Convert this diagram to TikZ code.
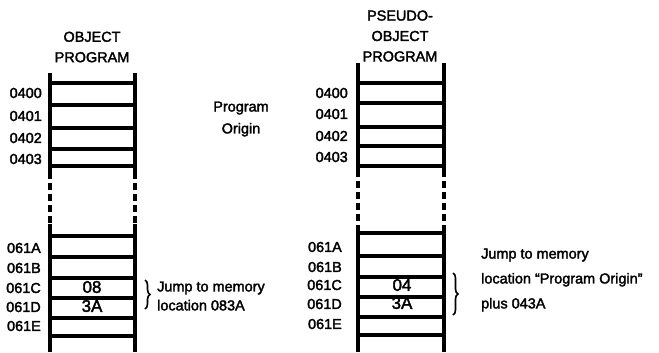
\documentclass[tikz,border=0pt]{standalone}
\usepackage{fontspec}
\setmainfont{Liberation Sans}[FakeBold=2.2]
\usetikzlibrary{positioning,decorations.pathreplacing}

\begin{document}
\begin{tikzpicture}[
  x=1bp, y=-1bp,
  rail/.style={line width=4bp},
  gap/.style={line width=4bp, dash pattern=on 7bp off 4bp},
  bar/.style={line width=3.5bp},
  title/.style={font=\fontsize{14.5}{20.5}\selectfont, align=center, inner sep=0pt},
  addr/.style={font=\fontsize{14.5}{17}\selectfont, anchor=east, inner sep=0pt},
  cell/.style={font=\fontsize{17}{17}\selectfont, inner sep=0pt},
  note/.style={font=\fontsize{14.5}{19}\selectfont, align=left, anchor=west, inner sep=0pt},
  curly/.style={decorate, decoration={brace, amplitude=5bp}, line width=1.6bp}
]
\useasboundingbox (0,0) rectangle (659,352);

% Object program
\node[title] (objtitle) at (92,47) {OBJECT\\PROGRAM};
\draw[rail] (50,73) -- (50,172);
\draw[rail] (135,73) -- (135,172);
\draw[gap] (50,172) -- (50,224);
\draw[gap] (135,172) -- (135,224);
\draw[rail] (50,224) -- (50,352);
\draw[rail] (135,224) -- (135,352);
\foreach \y in {83,105,128,149,166,236,257,278,298,318,336}
  \draw[bar] (50,\y) -- (135,\y);
\node[addr] (oa0) at (42,93) {0400};
\node[addr] (oa1) at (42,116) {0401};
\node[addr] (oa2) at (42,138) {0402};
\node[addr] (oa3) at (42,159) {0403};
\node[addr] (ob0) at (41,248) {061A};
\node[addr] (ob1) at (41,268) {061B};
\node[addr] (ob2) at (41,288) {061C};
\node[addr] (ob3) at (41,307) {061D};
\node[addr] (ob4) at (41,326) {061E};
\node[cell] (ohi) at (92,287) {08};
\node[cell] (olo) at (92,306) {3A};

\node[title, font=\fontsize{14.5}{22}\selectfont] (origin) at (241,119) {Program\\Origin};

% Jump note, object program
\coordinate (obrtop) at (145,280);
\coordinate (obrbot) at (145,309);
\draw[curly] (obrtop) -- (obrbot);
\node[note] (ojump) at (157,296) {Jump to memory\\location 083A};

% Pseudo-object program
\node[title] (pstitle) at (400,36) {PSEUDO-\\OBJECT\\PROGRAM};
\draw[rail] (358,63) -- (358,170);
\draw[rail] (444,63) -- (444,170);
\draw[gap] (358,170) -- (358,225);
\draw[gap] (444,170) -- (444,225);
\draw[rail] (358,225) -- (358,352);
\draw[rail] (444,225) -- (444,352);
\foreach \y in {83,103,127,146,166,233,256,277,297,317,335}
  \draw[bar] (358,\y) -- (444,\y);
\node[addr] (pa0) at (348,93) {0400};
\node[addr] (pa1) at (348,114) {0401};
\node[addr] (pa2) at (348,136) {0402};
\node[addr] (pa3) at (348,157) {0403};
\node[addr] (pb0) at (342,247) {061A};
\node[addr] (pb1) at (342,267) {061B};
\node[addr] (pb2) at (342,285) {061C};
\node[addr] (pb3) at (342,304) {061D};
\node[addr] (pb4) at (342,324) {061E};
\node[cell] (phi) at (402,285) {04};
\node[cell] (plo) at (402,303) {3A};

% Jump note, pseudo-object program
\coordinate (pbrtop) at (453,273);
\coordinate (pbrbot) at (453,315);
\draw[curly] (pbrtop) -- (pbrbot);
\node[note, font=\fontsize{14.5}{25}\selectfont] (pjump) at (481,280)
  {Jump to memory\\location “Program Origin”\\plus 043A};
\end{tikzpicture}
\end{document}
